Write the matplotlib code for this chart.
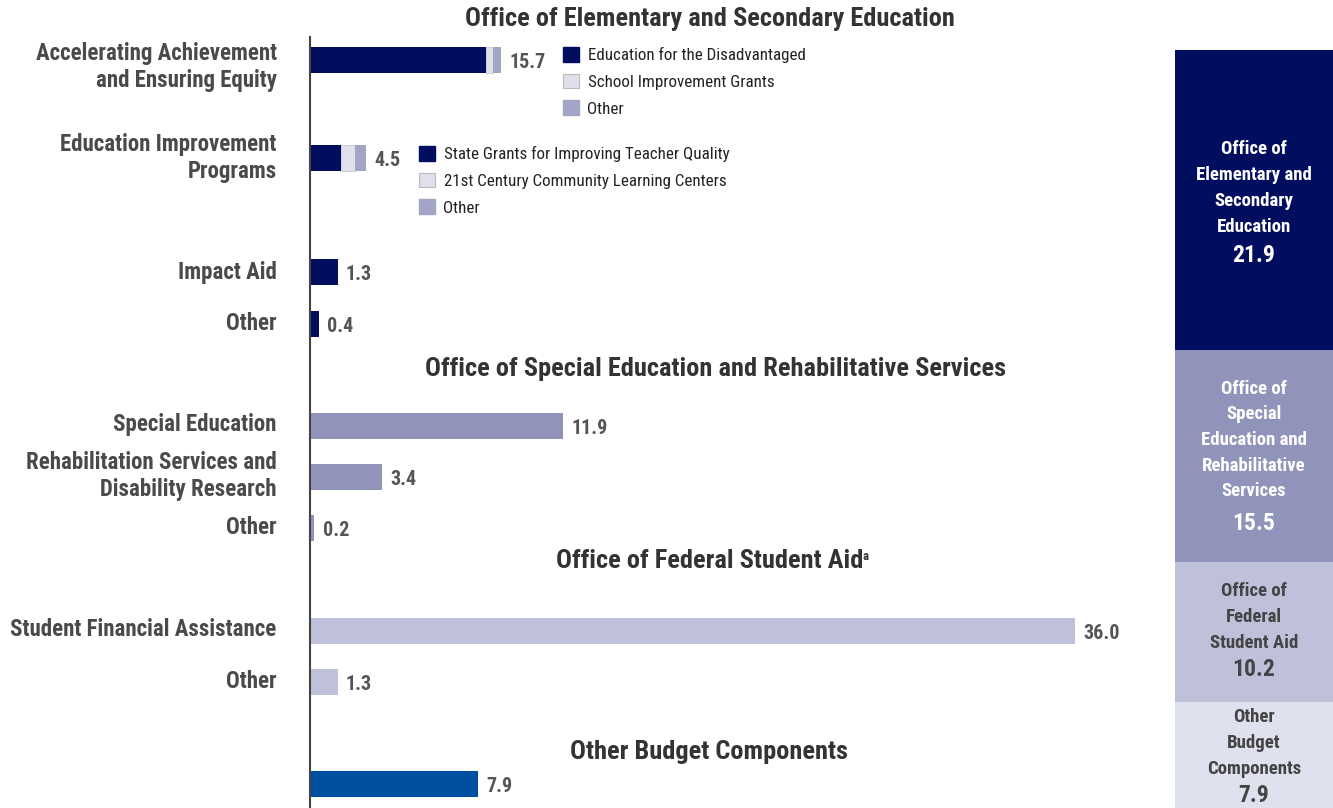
import matplotlib
matplotlib.use("Agg")
from matplotlib import pyplot as plt
from matplotlib.patches import Patch

plt.rcParams['font.family'] = ['Roboto Condensed', 'Liberation Sans Narrow',
                               'Liberation Sans', 'DejaVu Sans']

W, H = 1333, 808

# data (billions of dollars)
row_labels = ['Accelerating Achievement\nand Ensuring Equity', 'Education Improvement\nPrograms',
              'Impact Aid', 'Other', 'Special Education',
              'Rehabilitation Services and\nDisability Research', 'Other',
              'Student Financial Assistance', 'Other', '']
row_values = [15.7, 4.5, 1.3, 0.4, 11.9, 3.4, 0.2, 36.0, 1.3, 7.9]
# drawn segment lengths of the two stacked bars (as in the picture)
seg_acc = [8.3, 0.3, 0.4]
seg_eip = [1.45, 0.65, 0.55]
legend_acc = ['Education for the Disadvantaged', 'School Improvement Grants', 'Other']
legend_eip = ['State Grants for Improving Teacher Quality', '21st Century Community Learning Centers', 'Other']

section_titles = ['Office of Elementary and Secondary Education',
                  'Office of Special Education and Rehabilitative Services',
                  'Office of Federal Student Aid', 'Other Budget Components']

office_labels = ['Office of\nElementary and\nSecondary\nEducation',
                 'Office of\nSpecial\nEducation and\nRehabilitative\nServices',
                 'Office of\nFederal\nStudent Aid', 'Other\nBudget\nComponents']
office_values = [21.9, 15.5, 10.2, 7.9]

# layout (pixels from top)
row_y = [60, 158, 272, 324, 426, 477, 528, 631, 682, 784]
label_y = [67, 158, 272, 323, 425, 476, 528, 630, 681]
title_y = [19, 369, 561, 752]
title_x = [710, 716, 710, 709]
office_label_px = [188, 440, 617, 743]
office_value_px = [256, 524, 669, 796]

navy = '#010D5E'
osers = '#9094BB'
fsa = '#BFC0DA'
obc = '#004F9E'
light = '#DFE0EC'
other_c = '#A2A5C6'
row_colors = [navy] * 4 + [osers] * 3 + [fsa] * 2 + [obc]
office_colors = [navy, osers, fsa, '#E0E1EE']
office_text = ['white', 'white', '#444444', '#444444']

fig = plt.figure(figsize=(W / 100, H / 100), dpi=100)
ppu = 21.25
ax = fig.add_axes([310 / W, 0, (1175 - 310) / W, 1])
ax.set_xlim(0, (1175 - 310) / ppu)
ax.set_ylim(H, 0)
bh = 26

# plain bars
for i in range(2, len(row_values)):
    ax.barh(row_y[i], row_values[i], height=bh, color=row_colors[i], linewidth=0)

# stacked bars
seg_colors = [navy, light, other_c]
for segs, y in [(seg_acc, row_y[0]), (seg_eip, row_y[1])]:
    left = 0
    for s, c in zip(segs, seg_colors):
        ax.barh(y, s, left=left, height=bh, color=c,
                edgecolor='#C8C8D0' if c == light else c, linewidth=0.6 if c == light else 0)
        left += s

# value labels
ends = [sum(seg_acc), sum(seg_eip)] + row_values[2:]
for i, v in enumerate(row_values):
    ax.annotate(f'{v:.1f}', xy=(ends[i], row_y[i]), xytext=(6, -2), textcoords='offset points',
                ha='left', va='center', fontsize=14.5, fontweight='bold', color='#555555')

# left labels
for i, lab in enumerate(row_labels[:9]):
    ax.annotate(lab, xy=(0, label_y[i]), xytext=(-24, 0), textcoords='offset points',
                ha='right', va='center', fontsize=16.5, fontweight='bold', color='#4A4A4A',
                linespacing=1.22, annotation_clip=False)

# section titles
for t, x, y in zip(section_titles, title_x, title_y):
    txt = fig.text(x / W, 1 - y / H, t, ha='center', va='center', fontsize=19,
                   fontweight='bold', color='#333333')
    if t.startswith('Office of Federal'):
        ax.annotate('a', xy=(1.0, 0.97), xycoords=txt, xytext=(-1, 0), textcoords='offset points',
                    ha='left', va='top', fontsize=9, color='#333333', fontweight='bold',
                    annotation_clip=False)

# axis line
for s in ['top', 'right', 'bottom']:
    ax.spines[s].set_visible(False)
ax.spines['left'].set_bounds(37, H)
ax.spines['left'].set_color('#444444')
ax.spines['left'].set_linewidth(1.5)
ax.set_xticks([])
ax.set_yticks([])
ax.patch.set_alpha(0)

# legends
def make_legend(labels, x0, y0):
    handles = [Patch(facecolor=navy, edgecolor=navy),
               Patch(facecolor=light, edgecolor='#BBBBBB', linewidth=0.8),
               Patch(facecolor=other_c, edgecolor=other_c)]
    return fig.legend(handles, labels, loc='upper left', bbox_to_anchor=(x0 / W, 1 - y0 / H),
                      frameon=False, fontsize=12.25, handlelength=0.94, handleheight=0.94,
                      handletextpad=0.5, labelspacing=0.62, borderpad=0, borderaxespad=0,
                      labelcolor='#222222')

make_legend(legend_acc, 563, 47)
make_legend(legend_eip, 419, 146)

# right column: totals by office
ax2 = fig.add_axes([1175 / W, 0, 158 / W, 1])
top_px, bot_px = 50, 810
upp = sum(office_values) / (bot_px - top_px)
ax2.set_ylim((bot_px - H) * upp, bot_px * upp)
ax2.set_xlim(0, 1)
bottom = 0
for i in range(len(office_values))[::-1]:
    v = office_values[i]
    ax2.bar(0.5, v, bottom=bottom, width=1, color=office_colors[i], linewidth=0)
    bottom += v
for i, v in enumerate(office_values):
    ax2.text(0.5, (bot_px - office_label_px[i]) * upp, office_labels[i], ha='center',
             va='center', fontsize=13.5, fontweight='bold', color=office_text[i], linespacing=1.55)
    ax2.text(0.5, (bot_px - office_value_px[i]) * upp, f'{v:.1f}', ha='center', va='center',
             fontsize=17, fontweight='bold', color=office_text[i])
ax2.axis('off')

fig.savefig('out.png', dpi=100)
